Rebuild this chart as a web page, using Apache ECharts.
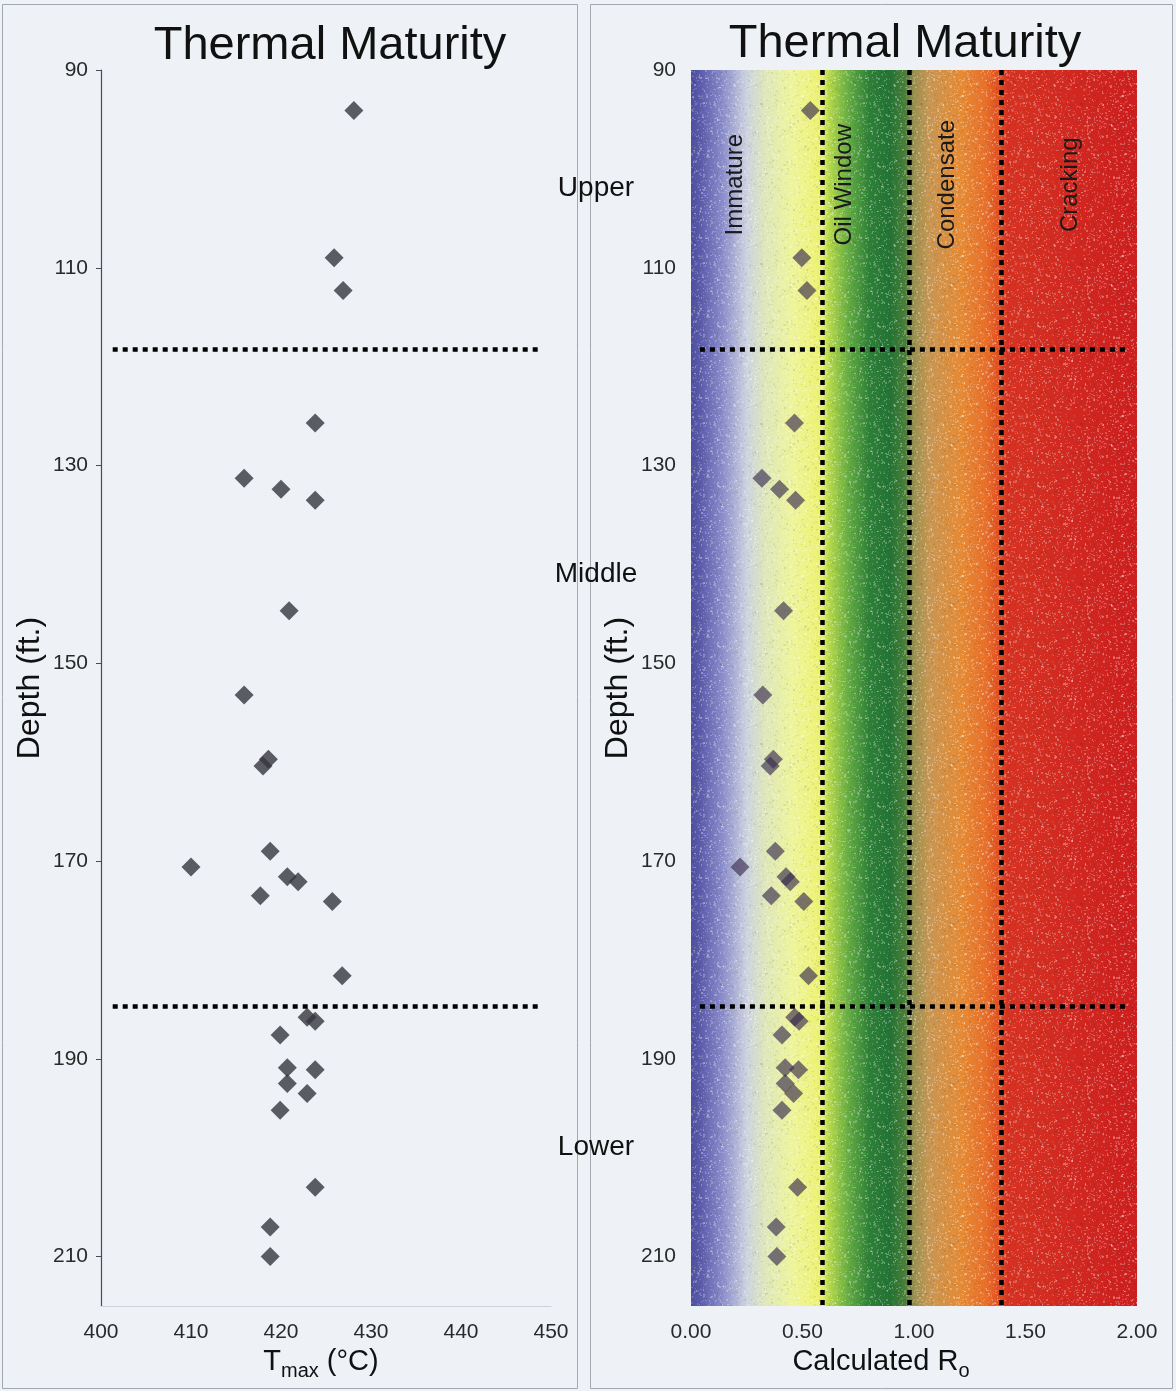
<!DOCTYPE html>
<html>
<head>
<meta charset="utf-8">
<script src="https://cdn.jsdelivr.net/npm/echarts@6/dist/echarts.min.js"></script>
<style>
  html, body { margin: 0; padding: 0; background: #eef1f6; }
  #chart { width: 1176px; height: 1391px; }
</style>
</head>
<body>
<div id="chart"></div>
<script>
// Core sample depths (ft.) with measured Tmax (°C) and calculated vitrinite reflectance Ro
const depth = [94.1, 109.0, 112.3, 125.7, 131.3, 132.4, 133.5, 144.7, 153.2, 159.7, 160.4,
  169.0, 170.6, 171.6, 172.1, 173.5, 174.1, 181.6, 185.8, 186.2, 187.6, 190.9, 191.1,
  192.5, 193.5, 195.2, 203.0, 207.0, 210.0];
const tmax = [428.1, 425.9, 426.9, 423.8, 415.9, 420.0, 423.8, 420.9, 415.9, 418.6, 418.0,
  418.8, 410.0, 420.7, 421.9, 417.7, 425.7, 426.8, 422.9, 423.8, 419.9, 420.7, 423.8,
  420.7, 422.9, 419.9, 423.8, 418.8, 418.8];
const ro = [0.535, 0.497, 0.520, 0.464, 0.318, 0.397, 0.469, 0.415, 0.322, 0.369, 0.355,
  0.378, 0.220, 0.426, 0.445, 0.360, 0.506, 0.527, 0.465, 0.485, 0.408, 0.422, 0.482,
  0.422, 0.460, 0.408, 0.478, 0.382, 0.385];

// Stratigraphic unit boundaries (depth, ft.)
const unitBoundaries = [118.2, 184.7];
const unitNames = ['Upper', 'Middle', 'Lower'];

// Maturity zone boundaries (Ro) and zone labels
const zoneBoundaries = [0.59, 0.98, 1.39];
const zoneNames = ['Immature', 'Oil Window', 'Condensate', 'Cracking'];
const zoneLabelRo = [0.20, 0.69, 1.15, 1.70];
const zoneLabelDepth = 101.6;

// Axis ranges and tick values
const depthRange = [90, 215];
const depthTicks = [90, 110, 130, 150, 170, 190, 210];
const tmaxRange = [400, 450];
const roRange = [0, 2];

const FONT = 'Liberation Sans';
const chart = echarts.init(document.getElementById('chart'), null, { renderer: 'canvas' });

// colour ramp of the maturity zones (offset = Ro / 2)
const maturityGradient = new echarts.graphic.LinearGradient(0, 0, 1, 0, [
  { offset: 0.000, color: '#4f4fa0' },
  { offset: 0.020, color: '#5a5aaa' },
  { offset: 0.070, color: '#8a8cca' },
  { offset: 0.125, color: '#cdd3e0' },
  { offset: 0.170, color: '#dfe8b8' },
  { offset: 0.225, color: '#edf49c' },
  { offset: 0.280, color: '#eef276' },
  { offset: 0.295, color: '#e6ef68' },
  { offset: 0.310, color: '#b5d84a' },
  { offset: 0.355, color: '#62aa42' },
  { offset: 0.400, color: '#2e8038' },
  { offset: 0.445, color: '#237334' },
  { offset: 0.480, color: '#4a7e38' },
  { offset: 0.500, color: '#9a9050' },
  { offset: 0.535, color: '#c89652' },
  { offset: 0.605, color: '#e58a35' },
  { offset: 0.660, color: '#e8702a' },
  { offset: 0.690, color: '#e05022' },
  { offset: 0.710, color: '#d63222' },
  { offset: 1.000, color: '#cc1e1e' }
]);

// soft speckle tile laid over the colour ramp (deterministic LCG)
function speckleTile(size) {
  const c = document.createElement('canvas');
  c.width = c.height = size;
  const g = c.getContext('2d');
  let s = 12345;
  const next = () => (s = (s * 1103515245 + 12345) & 0x7fffffff) / 0x7fffffff;
  for (let n = 0; n < size * size * 0.14; n++) {
    const x = Math.floor(next() * size), y = Math.floor(next() * size);
    const light = next() < 0.65;
    g.fillStyle = light ? 'rgba(255,255,255,' + (0.10 + next() * 0.22).toFixed(2) + ')'
                        : 'rgba(0,0,0,' + (0.03 + next() * 0.06).toFixed(2) + ')';
    g.fillRect(x, y, 1 + (next() < 0.4 ? 1 : 0), 1 + (next() < 0.4 ? 1 : 0));
  }
  return c;
}

const dotted = { color: '#000', width: 4.5, type: [5, 5] };
const labelText = { color: '#2a2a2a', fontSize: 21, fontFamily: FONT };
const nameRich = {
  t: { fontSize: 29, color: '#111', fontFamily: FONT },
  s: { fontSize: 20, color: '#111', fontFamily: FONT, padding: [18, 0, 0, 0] }
};

const grids = [
  { left: 101, top: 70, width: 450, height: 1236 },
  { left: 691, top: 70, width: 446, height: 1236 }
];

const fullBand = [[{ coord: [roRange[0], depthRange[0]] }, { coord: [roRange[1], depthRange[1]] }]];

const option = {
  backgroundColor: '#eef1f6',
  animation: false,
  grid: grids,
  xAxis: [
    {
      gridIndex: 0, type: 'value', min: tmaxRange[0], max: tmaxRange[1], interval: 10,
      axisLine: { show: true, lineStyle: { color: '#cdd1da', width: 1 } },
      axisTick: { show: false }, splitLine: { show: false },
      axisLabel: Object.assign({ margin: 16 }, labelText),
      name: '{t|T}{s|max}{t| (°C)}', nameLocation: 'middle', nameGap: 36,
      nameTextStyle: { rich: nameRich, padding: [0, 10, 0, 0] }
    },
    {
      gridIndex: 1, type: 'value', min: roRange[0], max: roRange[1], interval: 0.5,
      axisLine: { show: false }, axisTick: { show: false }, splitLine: { show: false },
      axisLabel: Object.assign({ margin: 16, formatter: v => v.toFixed(2) }, labelText),
      name: '{t|Calculated R}{s|o}', nameLocation: 'middle', nameGap: 36,
      nameTextStyle: { rich: nameRich, padding: [0, 66, 0, 0] }
    }
  ],
  yAxis: [0, 1].map(i => ({
    gridIndex: i, type: 'value', inverse: true, min: depthRange[0], max: depthRange[1], interval: 20,
    axisLine: { show: i === 0, lineStyle: { color: '#4a4d55', width: 1.2 } },
    axisTick: { show: i === 0, length: 5, customValues: depthTicks, lineStyle: { color: '#4a4d55' } },
    splitLine: { show: false },
    axisLabel: Object.assign({ margin: i === 0 ? 13 : 15, customValues: depthTicks }, labelText),
    name: 'Depth (ft.)', nameLocation: 'middle', nameGap: i === 0 ? 55 : 57,
    nameTextStyle: { fontSize: 32, color: '#111', fontFamily: FONT }
  })),
  series: [
    // colour band for maturity zones with grain, zone labels
    {
      type: 'scatter', xAxisIndex: 1, yAxisIndex: 1, data: [], z: 1, silent: true,
      markArea: { silent: true, itemStyle: { color: maturityGradient }, data: fullBand },
      markPoint: {
        silent: true, symbol: 'circle', symbolSize: 0,
        label: { show: true, position: 'inside', rotate: 90, fontSize: 24, color: '#1a1a1a',
          fontFamily: FONT, formatter: p => p.name },
        data: zoneNames.map((n, k) => ({ name: n, coord: [zoneLabelRo[k], zoneLabelDepth] }))
      }
    },
    {
      type: 'scatter', xAxisIndex: 1, yAxisIndex: 1, data: [], z: 1, silent: true,
      markArea: { silent: true, itemStyle: { color: { image: speckleTile(160), repeat: 'repeat' } },
        data: fullBand }
    },
    // dotted boundaries, left panel
    {
      type: 'scatter', xAxisIndex: 0, yAxisIndex: 0, data: [], z: 2, silent: true,
      markLine: {
        silent: true, symbol: 'none', label: { show: false }, lineStyle: dotted,
        data: unitBoundaries.map(d => [{ coord: [401.3, d] }, { coord: [448.8, d] }])
      }
    },
    // dotted boundaries, right panel
    {
      type: 'scatter', xAxisIndex: 1, yAxisIndex: 1, data: [], z: 2, silent: true,
      markLine: {
        silent: true, symbol: 'none', label: { show: false }, lineStyle: dotted,
        data: unitBoundaries.map(d => [{ coord: [0.04, d] }, { coord: [1.96, d] }])
          .concat(zoneBoundaries.map(r => [{ coord: [r, depthRange[0]] }, { coord: [r, depthRange[1]] }]))
      }
    },
    {
      name: 'Tmax', type: 'scatter', xAxisIndex: 0, yAxisIndex: 0, z: 3,
      symbol: 'diamond', symbolSize: 19,
      itemStyle: { color: '#36363f' },
      data: depth.map((d, k) => [tmax[k], d])
    },
    {
      name: 'Ro', type: 'scatter', xAxisIndex: 1, yAxisIndex: 1, z: 3,
      symbol: 'diamond', symbolSize: 19,
      itemStyle: { color: 'rgba(58, 46, 80, 0.82)' },
      data: depth.map((d, k) => [ro[k], d])
    }
  ],
  graphic: [
    { type: 'rect', silent: true, shape: { x: 2.5, y: 4.5, width: 575, height: 1384 },
      style: { fill: null, stroke: '#a3a7b0', lineWidth: 1 } },
    { type: 'rect', silent: true, shape: { x: 590.5, y: 4.5, width: 582, height: 1384 },
      style: { fill: null, stroke: '#a3a7b0', lineWidth: 1 } },
    { type: 'text', x: 330, y: 46, silent: true,
      style: { text: 'Thermal Maturity', fill: '#111', font: '47px "' + FONT + '"',
        textAlign: 'center', textVerticalAlign: 'middle' } },
    { type: 'text', x: 905, y: 44, silent: true,
      style: { text: 'Thermal Maturity', fill: '#111', font: '47px "' + FONT + '"',
        textAlign: 'center', textVerticalAlign: 'middle' } }
  ].concat(unitNames.map((n, k) => ({
    type: 'text', x: 596, y: [188, 574, 1147][k], silent: true,
    style: { text: n, fill: '#111', font: '28px "' + FONT + '"',
      textAlign: 'center', textVerticalAlign: 'middle' }
  })))
};

chart.setOption(option);
</script>
</body>
</html>
